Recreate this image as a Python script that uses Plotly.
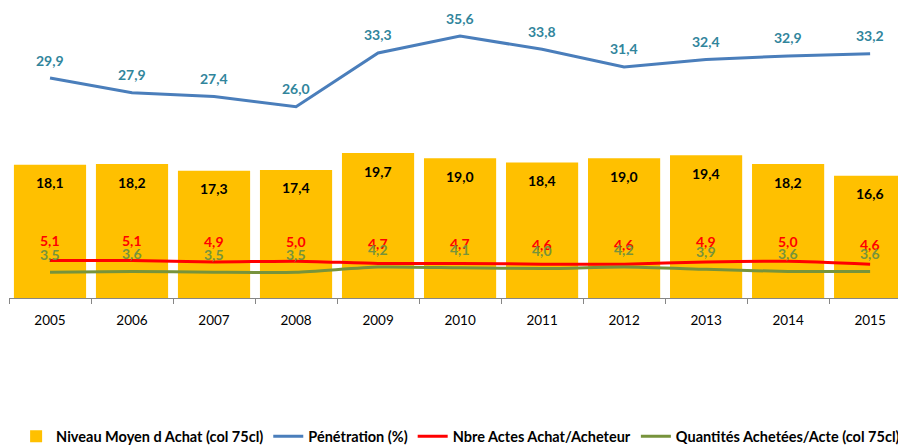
import plotly.graph_objects as go

years = ["2005", "2006", "2007", "2008", "2009", "2010", "2011", "2012", "2013", "2014", "2015"]
niveau_moyen = [18.1, 18.2, 17.3, 17.4, 19.7, 19.0, 18.4, 19.0, 19.4, 18.2, 16.6]
penetration = [29.9, 27.9, 27.4, 26.0, 33.3, 35.6, 33.8, 31.4, 32.4, 32.9, 33.2]
actes_par_acheteur = [5.1, 5.1, 4.9, 5.0, 4.7, 4.7, 4.6, 4.6, 4.9, 5.0, 4.6]
quantites_par_acte = [3.5, 3.6, 3.5, 3.5, 4.2, 4.1, 4.0, 4.2, 3.9, 3.6, 3.6]

FONT = "Lato"
BAR_C = "#FFC000"
BLUE = "#4A7EBB"
RED = "#FF0000"
GREEN = "#77933C"
TEAL = "#31859C"


def fr(v):
    return f"{v:.1f}".replace(".", ",")


fig = go.Figure()
fig.add_trace(go.Bar(
    x=years, y=niveau_moyen, name="Niveau Moyen d Achat (col 75cl)",
    marker=dict(color=BAR_C, line=dict(width=0)), width=0.88,
))
fig.add_trace(go.Scatter(
    x=years, y=penetration, name="Pénétration (%)", mode="lines",
    line=dict(color=BLUE, width=3),
))
fig.add_trace(go.Scatter(
    x=years, y=actes_par_acheteur, name="Nbre Actes Achat/Acheteur", mode="lines",
    line=dict(color=RED, width=3, shape="spline", smoothing=0.6),
))
fig.add_trace(go.Scatter(
    x=years, y=quantites_par_acte, name="Quantités Achetées/Acte (col 75cl)", mode="lines",
    line=dict(color=GREEN, width=3, shape="spline", smoothing=0.6),
))

# value labels, positioned on the category index of each year
annotations = []
label_font = dict(family=FONT, size=14, weight="bold")
for series, color, shift in [
    (niveau_moyen, "#000000", -18),
    (penetration, TEAL, 18),
    (actes_par_acheteur, RED, 20),
    (quantites_par_acte, GREEN, 18),
]:
    for i, v in enumerate(series):
        annotations.append(dict(
            x=i, y=v, xref="x", yref="y", text=fr(v), showarrow=False,
            yshift=shift, yanchor="middle", xanchor="center",
            font=dict(label_font, color=color),
        ))

fig.update_layout(
    width=898, height=447,
    margin=dict(l=9, r=0, t=0, b=149, autoexpand=False),
    paper_bgcolor="white", plot_bgcolor="white",
    barmode="overlay",
    showlegend=True,
    legend=dict(
        orientation="h", x=0.508, xanchor="center",
        yref="container", y=0.024, yanchor="middle",
        font=dict(family=FONT, size=14.5, color="#000000", weight="bold"),
        traceorder="normal", itemwidth=30,
    ),
    annotations=annotations,
    xaxis=dict(
        type="category", range=[-0.5, 10.34],
        showline=True, linecolor="#868686", linewidth=1,
        ticks="outside", tickson="boundaries", ticklen=5, tickcolor="#868686",
        tickfont=dict(family=FONT, size=13.5, color="#000000"),
        ticklabelstandoff=10, showgrid=False, zeroline=False,
    ),
    yaxis=dict(range=[0, 40.5], visible=False, showgrid=False, zeroline=False),
)

fig.write_html("out.html")
